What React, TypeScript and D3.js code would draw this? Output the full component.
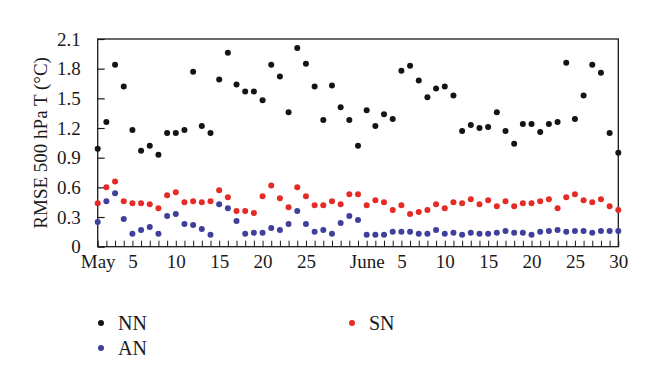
import { useRef, useEffect } from "react";
import * as d3 from "d3";

// day index 0 = May 1, 60 = June 30
const days: number[] = d3.range(0, 61);

const nn: number[] = [
  0.99, 1.26, 1.84, 1.62, 1.18, 0.97, 1.02, 0.93, 1.15, 1.15,
  1.18, 1.77, 1.22, 1.15, 1.69, 1.96, 1.64, 1.57, 1.57, 1.48,
  1.84, 1.72, 1.36, 2.01, 1.85, 1.62, 1.28, 1.63, 1.41, 1.28,
  1.02, 1.38, 1.22, 1.34, 1.29, 1.78, 1.83, 1.68, 1.51, 1.6,
  1.62, 1.53, 1.17, 1.23, 1.2, 1.21, 1.36, 1.17, 1.04, 1.24,
  1.24, 1.16, 1.24, 1.26, 1.86, 1.29, 1.53, 1.84, 1.76, 1.15,
  0.95,
];

const sn: number[] = [
  0.44, 0.6, 0.66, 0.46, 0.44, 0.44, 0.43, 0.39, 0.52, 0.55,
  0.45, 0.46, 0.45, 0.46, 0.57, 0.5, 0.36, 0.36, 0.34, 0.51,
  0.62, 0.49, 0.4, 0.6, 0.51, 0.42, 0.42, 0.46, 0.43, 0.53,
  0.53, 0.42, 0.47, 0.45, 0.37, 0.42, 0.33, 0.35, 0.37, 0.43,
  0.39, 0.45, 0.44, 0.48, 0.43, 0.47, 0.41, 0.46, 0.41, 0.44,
  0.44, 0.46, 0.48, 0.39, 0.5, 0.53, 0.47, 0.45, 0.48, 0.41,
  0.37,
];

const an: number[] = [
  0.25, 0.46, 0.54, 0.28, 0.13, 0.17, 0.2, 0.13, 0.31, 0.33,
  0.23, 0.22, 0.18, 0.12, 0.43, 0.39, 0.26, 0.13, 0.14, 0.14,
  0.19, 0.17, 0.23, 0.36, 0.23, 0.15, 0.17, 0.13, 0.24, 0.31,
  0.27, 0.12, 0.12, 0.12, 0.15, 0.15, 0.15, 0.13, 0.13, 0.17,
  0.13, 0.14, 0.12, 0.14, 0.13, 0.13, 0.14, 0.16, 0.14, 0.14,
  0.12, 0.15, 0.16, 0.17, 0.15, 0.16, 0.16, 0.14, 0.16, 0.16,
  0.16,
];

const yTicks: number[] = [0, 0.3, 0.6, 0.9, 1.2, 1.5, 1.8, 2.1];
const xLabelDays: number[] = [0, 4, 9, 14, 19, 24, 31, 35, 40, 45, 50, 55, 60];
const xLabels: string[] = ["May", "5", "10", "15", "20", "25", "June", "5", "10", "15", "20", "25", "30"];

const seriesNames: string[] = ["NN", "SN", "AN"];
const seriesColors: string[] = ["#141414", "#e52b25", "#3f3f9c"];

const App = () => {
  const svgRef = useRef<SVGSVGElement>(null);

  useEffect(() => {
    const width = 660;
    const height = 387;
    const margin = { top: 39, left: 97.7, bottom: 140.3, right: 41.7 };
    const font = "'Liberation Serif', 'DejaVu Serif', serif";

    const svg = d3.select(svgRef.current).attr("width", width).attr("height", height)
      .style("font-family", font);
    svg.selectAll("*").remove();

    const x = d3.scaleLinear().domain([0, 60]).range([margin.left, width - margin.right]);
    const y = d3.scaleLinear().domain([0, 2.1]).range([height - margin.bottom, margin.top]);

    // y-akselin otsikko
    svg.append("text")
      .attr("transform", `translate(47, ${(y(0) + y(2.1)) / 2}) rotate(-90)`)
      .attr("text-anchor", "middle")
      .attr("font-size", "19px")
      .attr("fill", "#1a1a1a")
      .text("RMSE 500 hPa T (°C)");

    // x tikit joka päivälle
    svg.append("g")
      .attr("transform", `translate(0, ${y(0)})`)
      .call(d3.axisBottom(x).tickValues(days).tickSize(-6).tickFormat(() => ""))
      .call(g => g.select(".domain").remove())
      .call(g => g.selectAll(".tick line").attr("stroke", "#1a1a1a").attr("stroke-width", 1));

    // x tekstit
    svg.append("g")
      .attr("transform", `translate(0, ${y(0)})`)
      .call(d3.axisBottom(x).tickValues(xLabelDays).tickSize(0).tickPadding(8)
        .tickFormat((d, i) => xLabels[i]))
      .call(g => g.select(".domain").remove())
      .selectAll("text")
        .attr("fill", "#1a1a1a")
        .style("font-family", font)
        .style("font-size", "19px");

    // y akseli
    svg.append("g")
      .attr("transform", `translate(${margin.left}, 0)`)
      .call(d3.axisLeft(y).tickValues(yTicks).tickSize(-7).tickPadding(17)
        .tickFormat(d => (+d === 0 ? "0" : d3.format(".1f")(+d))))
      .call(g => g.select(".domain").remove())
      .call(g => g.selectAll(".tick line").attr("stroke", "#1a1a1a").attr("stroke-width", 1.2))
      .selectAll("text")
        .attr("fill", "#1a1a1a")
        .style("font-family", font)
        .style("font-size", "19px");

    // kehys
    svg.append("rect")
      .attr("x", margin.left)
      .attr("y", margin.top)
      .attr("width", width - margin.right - margin.left)
      .attr("height", y(0) - margin.top)
      .attr("fill", "none")
      .attr("stroke", "#1a1a1a")
      .attr("stroke-width", 1.3);

    // pisteet
    const allSeries = [nn, sn, an];
    const order = [1, 2, 0]; // piirtojärjestys
    order.forEach(si => {
      svg.append("g")
        .selectAll("circle")
        .data(allSeries[si])
        .join("circle")
        .attr("cx", (d, i) => x(days[i]))
        .attr("cy", d => y(d))
        .attr("r", 3)
        .attr("fill", seriesColors[si]);
    });

    // selite
    const legendPos = [
      { x: 101, y: 323 },
      { x: 352, y: 323 },
      { x: 101, y: 348 },
    ];
    const legend = svg.append("g")
      .selectAll("g")
      .data(seriesNames)
      .join("g")
      .attr("transform", (d, i) => `translate(${legendPos[i].x}, ${legendPos[i].y})`);
    legend.append("circle")
      .attr("r", 3)
      .attr("fill", (d, i) => seriesColors[i]);
    legend.append("text")
      .attr("x", 17)
      .attr("y", 6.5)
      .attr("font-size", "20px")
      .attr("fill", "#1a1a1a")
      .text(d => d);
  }, []);

  return <svg ref={svgRef} style={{ position: "absolute", left: 0, top: 0 }}></svg>;
};

export default App;
